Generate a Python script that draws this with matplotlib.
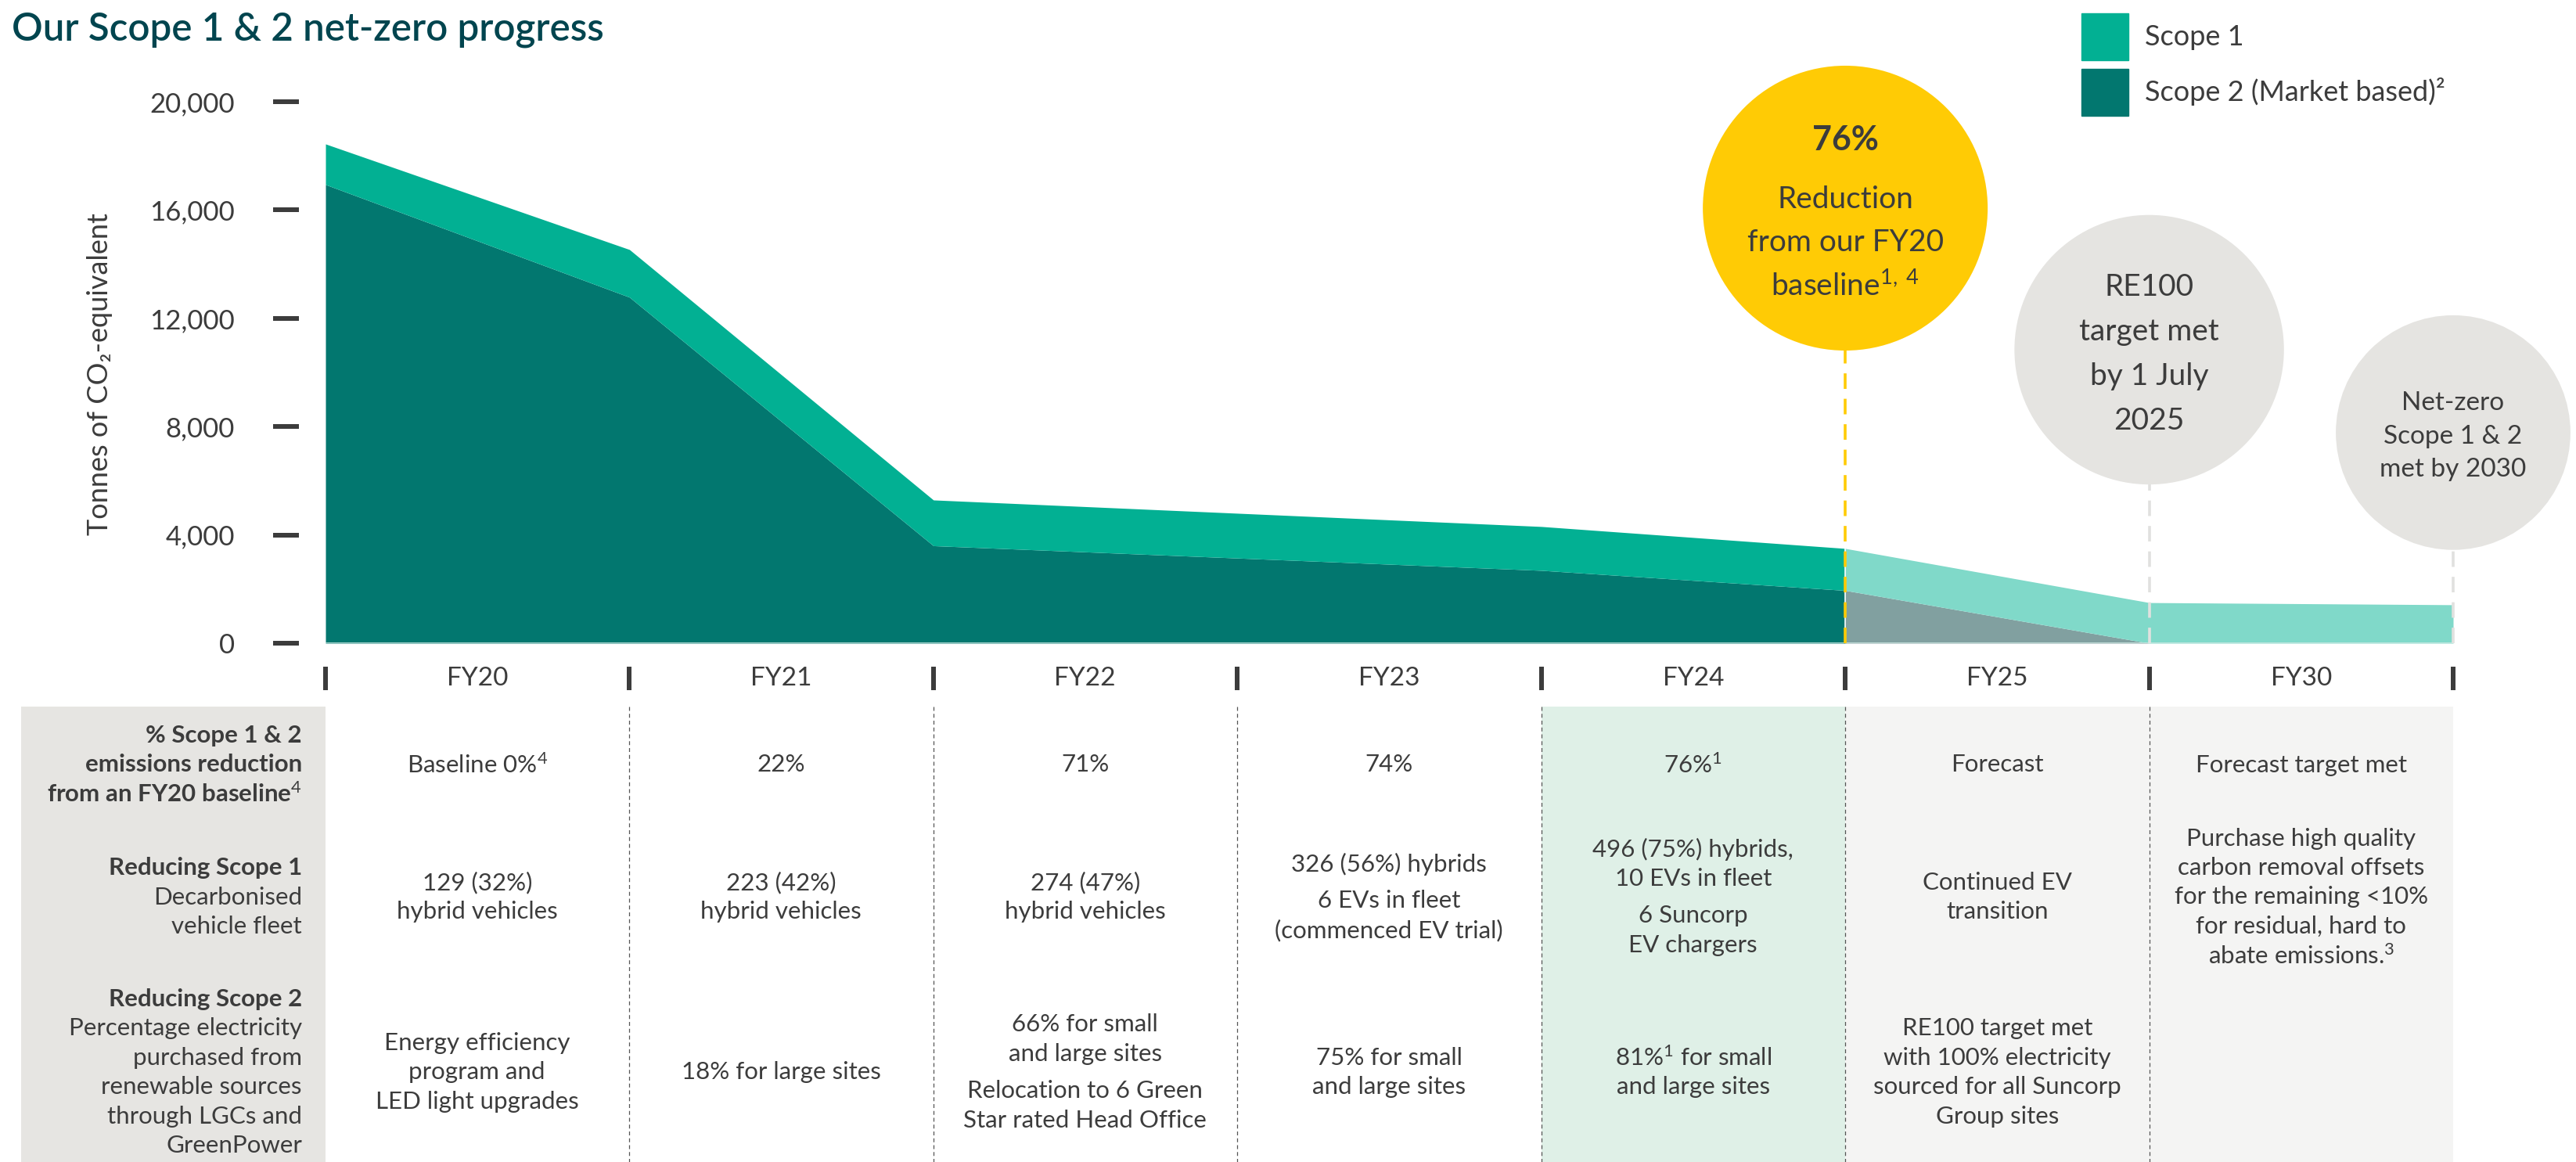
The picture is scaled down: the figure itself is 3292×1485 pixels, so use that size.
import matplotlib.pyplot as plt
from matplotlib.patches import Patch
from matplotlib.ticker import FuncFormatter

plt.rcParams['font.family'] = ['Lato', 'DejaVu Sans']
plt.rcParams['mathtext.fontset'] = 'custom'
plt.rcParams['mathtext.rm'] = 'Lato'
plt.rcParams['mathtext.it'] = 'Lato:italic'
plt.rcParams['mathtext.bf'] = 'Lato:bold'

# ---------------------------------------------------------------------------
# Data (tonnes CO2-e)
# ---------------------------------------------------------------------------

years = ["FY20", "FY21", "FY22", "FY23", "FY24", "FY25", "FY30"]

# reported years sit on the column edges of the timeline
actual_pos = [0, 1, 2, 4, 5]
scope1 = [1500, 1760, 1690, 1620, 1550]
scope2 = [16940, 12780, 3600, 2690, 1950]

forecast_pos = [5, 6, 7]
forecast_scope1 = [1550, 1500, 1420]
forecast_scope2 = [1950, 0, 0]

y_ticks = [0, 4000, 8000, 12000, 16000, 20000]

legend_labels = ["Scope 1", "Scope 2 (Market based)²"]

# milestone bubbles
milestone_pos = [5, 6, 7]
milestone_y = [16070, 10840, 7780]
milestone_size = [68700, 61500, 46600]
milestone_colors = ["#FFCB05", "#E5E4E1", "#E5E4E1"]
milestone_lines = [
    ["Reduction", "from our FY20", r"baseline$^{1,\ 4}$"],
    ["RE100", "target met", "by 1 July", "2025"],
    ["Net-zero", "Scope 1 & 2", "met by 2030"],
]

# table
row_titles = [
    ["% Scope 1 & 2", "emissions reduction", r"from an FY20 baseline$^{4}$"],
    ["Reducing Scope 1"],
    ["Reducing Scope 2"],
]
row_notes = [
    [],
    ["Decarbonised", "vehicle fleet"],
    ["Percentage electricity", "purchased from", "renewable sources",
     "through LGCs and", "GreenPower"],
]
reduction_row = [
    [[r"Baseline 0%$^{4}$"]], [["22%"]], [["71%"]], [["74%"]],
    [[r"76%$^{1}$"]], [["Forecast"]], [["Forecast target met"]],
]
fleet_row = [
    [["129 (32%)", "hybrid vehicles"]],
    [["223 (42%)", "hybrid vehicles"]],
    [["274 (47%)", "hybrid vehicles"]],
    [["326 (56%) hybrids"], ["6 EVs in fleet", "(commenced EV trial)"]],
    [["496 (75%) hybrids,", "10 EVs in fleet"], ["6 Suncorp", "EV chargers"]],
    [["Continued EV", "transition"]],
    [["Purchase high quality", "carbon removal offsets",
      "for the remaining <10%", "for residual, hard to",
      r"abate emissions.$^{3}$"]],
]
electricity_row = [
    [["Energy efficiency", "program and", "LED light upgrades"]],
    [["18% for large sites"]],
    [["66% for small", "and large sites"],
     ["Relocation to 6 Green", "Star rated Head Office"]],
    [["75% for small", "and large sites"]],
    [[r"81%$^{1}$ for small", "and large sites"]],
    [["RE100 target met", "with 100% electricity",
      "sourced for all Suncorp", "Group sites"]],
    [],
]
table_rows = [reduction_row, fleet_row, electricity_row]

# ---------------------------------------------------------------------------
# Style
# ---------------------------------------------------------------------------

W, H = 3292, 1485
PT = 72 / 100  # points per pixel at dpi=100

SCOPE1 = "#02B093"
SCOPE2 = "#02776F"
SCOPE1_FC = "#80D9C9"
SCOPE2_FC = "#81A0A0"
TEXT = "#3C3C3C"
TITLE = "#01454F"

ROW_CENTRES = [72, 241, 465]  # px below top of table
LINE_STEP = 37.5
PARA_GAP = 10
TABLE_FS = 22.5


def stack_lines(ax, x, y, lines, step, size, weights=None, ha="center",
                shift=0, zorder=3):
    """Write lines centred on (x, y) + shift px, stepping down by `step` px."""
    offsets = []
    pos = 0.0
    for i, (text, gap) in enumerate(lines):
        if i > 0:
            pos += step + gap
        offsets.append(pos)
    mid = offsets[-1] / 2 if offsets else 0
    for i, (text, _) in enumerate(lines):
        w = weights[i] if weights else "normal"
        ax.annotate(text, (x, y),
                    xytext=(0, -(offsets[i] - mid + shift) * PT),
                    textcoords="offset points", ha=ha, va="center_baseline",
                    fontsize=size, color=TEXT, weight=w,
                    annotation_clip=False, zorder=zorder)


def flatten(paragraphs):
    lines = []
    for p_idx, para in enumerate(paragraphs):
        for l_idx, line in enumerate(para):
            gap = PARA_GAP if (p_idx > 0 and l_idx == 0) else 0
            lines.append((line, gap))
    return lines


fig = plt.figure(figsize=(W / 100, H / 100), dpi=100)

# ---------------------------------------------------------------------------
# Emissions chart
# ---------------------------------------------------------------------------

ax = fig.add_axes([416 / W, 1 - 822 / H, (3135 - 416) / W, (822 - 130) / H])
ax.set_xlim(0, 7)
ax.set_ylim(0, 20000)

total = [a + b for a, b in zip(scope1, scope2)]
forecast_total = [a + b for a, b in zip(forecast_scope1, forecast_scope2)]

ax.fill_between(actual_pos, 0, scope2, color=SCOPE2, lw=0, zorder=1)
ax.fill_between(actual_pos, scope2, total, color=SCOPE1, lw=0, zorder=1)
ax.fill_between(forecast_pos, 0, forecast_scope2, color=SCOPE2_FC, lw=0, zorder=1)
ax.fill_between(forecast_pos, forecast_scope2, forecast_total, color=SCOPE1_FC,
                lw=0, zorder=1)
ax.axhline(0, color="#CDE9E3", lw=1.2, zorder=1.5)
ax.vlines(actual_pos[-1], 0, total[-1], color="white", lw=1.2, zorder=2)

# dashed leaders up to the bubbles
for pos, cy, col in zip(milestone_pos, milestone_y, milestone_colors):
    lead = "#FFCB05" if col == "#FFCB05" else "#E1E1DF"
    ax.vlines(pos, 0, cy, color=lead, lw=2.6, linestyles=(0, (5.5, 3.5)),
              zorder=3, clip_on=False)

ax.scatter(milestone_pos, milestone_y, s=milestone_size, c=milestone_colors,
           lw=0, zorder=4, clip_on=False)

ax.annotate("76%", (milestone_pos[0], milestone_y[0]), xytext=(0, 90 * PT),
            textcoords="offset points", ha="center", va="center_baseline",
            fontsize=31, weight="bold", color=TEXT, annotation_clip=False,
            zorder=5)
bubble_fs = [28, 28, 24]
bubble_step = [55, 57, 42.5]
bubble_shift = [41, 2, 2]
for k in range(3):
    stack_lines(ax, milestone_pos[k], milestone_y[k],
                [(t, 0) for t in milestone_lines[k]], bubble_step[k],
                bubble_fs[k], shift=bubble_shift[k], zorder=5)

for side in ["top", "right", "bottom"]:
    ax.spines[side].set_visible(False)
ax.spines["left"].set_color("none")
ax.spines["left"].set_position(("outward", 34 * PT))
ax.set_xticks([])
ax.set_yticks(y_ticks)
ax.yaxis.set_major_formatter(FuncFormatter(lambda v, _: f"{v:,.0f}"))
ax.tick_params(axis="y", length=33 * PT, width=6 * PT, color=TEXT,
               pad=49 * PT, labelsize=25, labelcolor=TEXT)
ax.text(-0.106, 0.497, "Tonnes of CO₂-equivalent", transform=ax.transAxes,
        rotation=90, ha="center", va="center", fontsize=26, color=TEXT)

fig.text(15 / W, 1 - 38 / H, "Our Scope 1 & 2 net-zero progress", fontsize=35.5,
         weight="semibold", color=TITLE, va="center")

fig.legend([Patch(color=SCOPE1), Patch(color=SCOPE2)], legend_labels,
           loc="upper left", bbox_to_anchor=(2660 / W, 1 - 17 / H),
           frameon=False, fontsize=26, labelcolor=TEXT, handlelength=1.66,
           handleheight=2.18, labelspacing=0.3, handletextpad=0.58,
           borderpad=0, borderaxespad=0)

# ---------------------------------------------------------------------------
# Table
# ---------------------------------------------------------------------------

tab = fig.add_axes([27 / W, 0, (3135 - 27) / W, (H - 903) / H])
tab.set_xlim(-1, 7)
tab.set_ylim(H - 903, 0)
tab.axis("off")

tab.axvspan(-1, 0, color="#E6E5E2", lw=0)
tab.axvspan(4, 5, color="#DFF0E7", lw=0)
tab.axvspan(5, 7, color="#F4F4F3", lw=0)
tab.vlines(range(1, 7), 0, H - 903, color="#555555", lw=0.9,
           linestyles=(0, (4, 3)))

# column headers with the separator bars
tab.vlines(range(0, 8), -51, -21, color=TEXT, lw=6 * PT, clip_on=False)
for i, year in enumerate(years):
    tab.text(i + 0.5, -36, year, ha="center", va="center", fontsize=24,
             color=TEXT)

for r, yc in enumerate(ROW_CENTRES):
    lines = [(t, 0) for t in row_titles[r]] + [(t, 0) for t in row_notes[r]]
    weights = ["bold"] * len(row_titles[r]) + ["normal"] * len(row_notes[r])
    stack_lines(tab, -0.076, yc, lines, LINE_STEP, TABLE_FS, weights, ha="right")
    for c, cell in enumerate(table_rows[r]):
        if cell:
            stack_lines(tab, c + 0.5, yc, flatten(cell), LINE_STEP, TABLE_FS)

fig.savefig("out.png", dpi=100)
